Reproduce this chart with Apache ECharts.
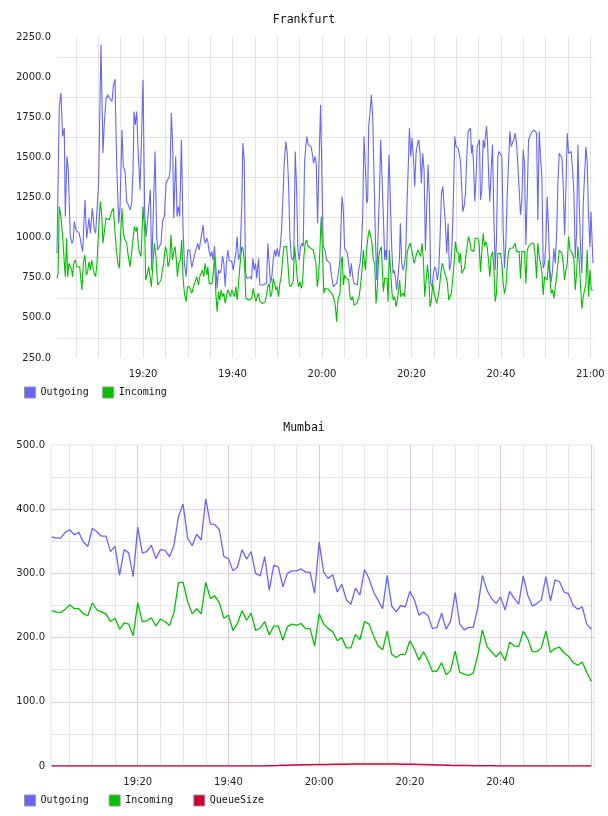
<!DOCTYPE html>
<html>
<head>
<meta charset="utf-8">
<title>Frankfurt / Mumbai</title>
<script src="https://cdn.jsdelivr.net/npm/echarts@6/dist/echarts.min.js"></script>
<style>
  html, body { margin: 0; padding: 0; background: #fff; }
  #chart { width: 608px; height: 816px; }
</style>
</head>
<body>
<div id="chart"></div>
<script>
// x values are minutes after 19:00
const frankfurtRange = [0.76, 120.6];
const mumbaiRange = [0.88, 120.6];
const frankfurtTicks = [250, 2250, 250];
const mumbaiTicks = [0, 500, 100];
const seriesNames = ["Outgoing", "Incoming", "QueueSize"];
const seriesColors = ["#6666ff", "#00c000", "#cc0033"];

const frankfurtOutgoing = [
  [0.76,902],[1.27,1818],[1.64,1901],[2.02,1630],[2.39,1682],[2.61,1131],[2.98,1506],[3.28,1422],[3.73,1006],[4.10,965],
  [4.40,986],[4.63,1100],[5.00,1048],[5.37,1038],[5.75,1027],[6.12,965],[6.49,913],[6.71,1048],[7.01,1235],[7.39,996],
  [7.61,986],[7.91,1121],[8.21,1027],[8.65,1183],[9.10,1048],[9.40,1027],[9.70,1173],[10.07,1339],[10.59,2202],[11.04,1526],
  [11.34,1714],[11.71,1859],[12.09,1890],[12.46,1870],[12.83,1859],[13.06,1849],[13.35,1942],[13.73,1988],[14.10,1464],[14.55,1090],
  [14.85,1194],[15.29,1672],[15.59,1443],[15.97,1412],[16.34,1225],[16.71,1204],[17.09,1173],[17.46,1214],[17.76,1422],[17.98,1786],
  [18.28,1703],[18.58,1786],[18.95,1506],[19.32,1298],[19.70,1672],[19.99,1984],[20.37,1152],[20.67,1006],[21.04,1121],[21.34,1131],
  [21.63,1298],[21.93,798],[22.68,1537],[23.05,1006],[23.28,923],[23.65,944],[24.02,965],[24.40,1110],[24.77,1131],[25.14,1339],
  [25.51,1360],[25.89,1381],[26.04,1422],[26.33,1776],[26.63,1568],[26.86,1121],[27.30,1506],[27.60,1131],[27.90,1194],[28.20,1131],
  [28.57,1610],[28.95,1048],[29.24,840],[29.62,757],[29.99,923],[30.44,923],
  [30.52,902],[30.90,815],[31.27,815],[31.64,907],[32.02,913],[32.24,965],[32.54,923],[32.84,913],[33.13,1027],[33.43,1079],
  [33.66,996],[33.88,965],[34.25,996],[34.48,975],[34.78,913],[35.07,882],[35.37,913],[35.67,861],[35.97,948],[36.27,819],
  [36.57,684],[36.86,798],[37.16,778],[37.46,798],[37.76,886],[38.06,840],[38.36,694],[38.65,840],[38.95,923],[39.25,861],
  [39.55,861],[39.85,850],[40.15,798],[40.44,850],[40.74,902],[41.04,1006],[41.34,861],[41.71,902],[42.09,1214],[42.31,1589],
  [42.61,1485],[42.91,778],[43.21,746],[43.58,757],[43.95,757],[44.25,740],[44.55,871],[44.85,798],[45.14,840],[45.44,746],
  [45.82,871],[46.11,705],[46.49,705],[46.86,705],[47.23,705],[47.61,715],[47.90,965],[48.20,840],[48.50,715],[48.80,757],
  [49.10,861],[49.40,923],[49.70,882],[49.99,934],[50.37,882],[50.67,944],[50.96,1048],[51.26,1235],[51.56,1464],[51.93,1599],
  [52.23,1526],[52.53,1339],[52.83,1006],[53.13,882],[53.43,861],[53.72,882],[54.02,1537],[54.32,1318],[54.62,923],[54.92,861],
  [55.22,944],[55.51,965],[55.81,944],[56.11,1464],[56.41,1578],[56.63,1630],[56.93,1578],[57.23,1578],[57.53,1568],[57.83,1526],
  [58.13,1464],[58.42,1506],[58.72,1464],[59.02,1090],[59.32,1443],[59.69,1828],[59.99,1818],[60.29,944],
  [60.67,923],[61.05,861],[61.42,850],[61.79,840],[62.17,757],[62.54,694],[62.91,684],[63.28,715],[63.66,778],[64.03,861],
  [64.25,1069],[64.48,1256],[64.78,1173],[65.07,934],[65.37,944],[65.67,902],[65.97,840],[66.27,757],[66.57,840],[66.86,757],
  [67.16,715],[67.54,715],[67.91,705],[68.21,798],[68.51,840],[68.80,923],[69.10,1131],[69.40,1630],[69.70,1443],[70.00,1214],
  [70.22,1235],[70.45,1693],[70.74,1776],[71.04,1890],[71.34,1755],[71.64,1381],[71.94,1006],[72.24,736],[72.53,1006],[72.83,1256],
  [73.13,1610],[73.43,1599],[73.73,1131],[74.03,861],[74.25,923],[74.47,861],[74.77,1298],[75.00,1516],[75.29,1506],[75.59,944],
  [75.89,778],[76.12,798],[76.41,757],[76.71,674],[77.01,757],[77.31,861],[77.53,1090],[77.83,840],[78.13,798],[78.43,830],
  [78.73,902],[79.02,1214],[79.32,1464],[79.55,1682],[79.85,1506],[80.14,1620],[80.44,1506],[80.74,1318],[81.04,1526],[81.34,1578],
  [81.64,1610],[81.93,1526],[82.23,1339],[82.53,1526],[82.83,1422],[83.13,923],[83.43,913],[83.72,1454],[84.02,1256],[84.32,715],
  [84.62,694],[84.92,778],[85.22,819],[85.51,798],[85.81,736],[86.11,798],[86.41,1006],[86.71,1277],[87.01,1318],[87.31,1194],
  [87.60,1090],[87.90,902],[88.20,1090],[88.50,798],[88.80,830],[89.10,965],[89.39,1256],[89.69,1630],[89.99,1568],[90.44,1558],
  [90.67,1526],[90.97,1474],[91.27,1464],[91.49,1162],[91.79,1194],[92.09,1277],[92.38,1506],[92.68,1662],[92.98,1672],[93.20,1682],
  [93.43,1526],[93.65,1578],[93.88,1464],[94.17,1225],[94.47,1381],[94.70,1568],[95.00,1589],[95.22,1610],[95.44,1235],[95.74,1298],
  [96.04,1610],[96.34,1558],[96.56,1630],[96.79,1693],[97.01,1610],[97.23,1422],[97.53,1225],[97.83,1422],[98.13,1578],[98.43,1131],
  [98.73,798],[99.02,986],[99.32,1506],[99.62,1537],[99.92,1526],[100.22,1506],[100.52,1048],[100.81,809],[101.11,965],[101.41,1256],
  [101.71,1464],[102.01,1662],[102.31,1568],[102.60,1558],[102.90,1610],[103.20,1651],[103.50,1589],[103.80,1454],[104.10,1443],[104.39,1142],
  [104.69,1235],[104.99,1547],[105.29,1464],[105.59,954],[105.89,1256],[106.19,1610],[106.48,1630],[106.78,1651],[107.08,1662],[107.38,1672],
  [107.68,1682],[107.98,1651],[108.27,1110],[108.57,1662],[108.87,1506],[109.17,1381],[109.47,809],[109.77,840],[110.06,965],[110.36,1256],
  [110.66,1048],[110.96,798],[111.26,726],[111.56,798],[111.85,934],[112.15,840],[112.45,1006],[112.75,1339],[113.05,1526],[113.35,1516],
  [113.65,1495],[113.94,1329],[114.24,1017],[114.54,1298],[114.84,1651],[115.14,1526],[115.44,1526],[115.73,1537],[116.03,1422],[116.33,1277],
  [116.63,871],[116.93,1027],[117.23,1578],[117.52,1214],[117.82,934],[118.12,778],[118.42,1214],[118.72,1391],[119.02,1568],[119.31,1464],
  [119.61,1131],[119.91,944],[120.14,1162],[120.6,840]
];

const frankfurtIncoming = [
  [0.76,746],[1.00,778],[1.27,1194],[1.64,1131],[2.02,1006],[2.39,996],[2.61,757],[2.91,996],[3.13,757],[3.43,840],
  [3.73,830],[4.03,798],[4.25,757],[4.48,840],[4.85,861],[5.15,819],[5.52,830],[5.82,819],[6.12,809],[6.34,674],
  [6.64,840],[7.01,892],[7.31,767],[7.61,788],[7.91,850],[8.21,798],[8.51,861],[8.88,798],[9.10,778],[9.40,757],
  [9.70,840],[10.07,1048],[10.44,1225],[10.74,1152],[11.04,965],[11.34,975],[11.71,1121],[12.09,1121],[12.46,1110],[12.68,1131],
  [12.98,1162],[13.35,1183],[13.65,1194],[14.03,923],[14.40,840],[14.70,809],[15.00,1027],[15.29,1183],[15.59,1027],[15.97,986],
  [16.34,965],[16.71,882],[17.09,819],[17.38,819],[17.76,986],[18.05,1069],[18.43,1038],[18.65,1069],[18.95,944],[19.25,902],
  [19.55,882],[19.99,1194],[20.37,1048],[20.59,736],[20.89,767],[21.26,819],[21.56,809],[21.86,694],[22.23,694],[22.53,965],
  [22.90,882],[23.28,705],[23.65,694],[24.02,736],[24.32,798],[24.62,840],[24.99,944],[25.29,913],[25.59,819],[25.96,861],
  [26.26,1017],[26.56,861],[26.86,913],[27.15,944],[27.45,861],[27.68,757],[27.98,840],[28.35,861],[28.65,986],[28.95,746],
  [29.24,653],[29.62,601],[29.92,694],[30.37,694],
  [30.52,694],[30.90,653],[31.27,694],[31.64,705],[32.02,757],[32.39,705],[32.69,757],[32.98,767],[33.28,798],[33.58,757],
  [33.88,840],[34.25,767],[34.48,819],[34.78,715],[35.07,715],[35.37,711],[35.67,767],[35.97,882],[36.27,653],[36.57,538],
  [36.86,663],[37.16,611],[37.46,674],[37.76,632],[38.06,653],[38.36,590],[38.65,632],[38.95,674],[39.25,663],[39.55,632],
  [39.85,674],[40.15,653],[40.44,632],[40.74,694],[41.04,611],[41.34,715],[41.71,840],[42.09,944],[42.38,923],[42.68,840],
  [42.98,622],[43.28,611],[43.58,611],[43.95,611],[44.32,622],[44.62,684],[44.92,642],[45.22,601],[45.52,632],[45.82,653],
  [46.11,601],[46.41,611],[46.71,590],[47.01,590],[47.31,601],[47.61,595],[47.90,694],[48.20,715],[48.50,632],[48.80,653],
  [49.10,746],[49.40,715],[49.70,674],[49.99,694],[50.29,632],[50.59,715],[50.89,757],[51.19,861],[51.49,944],[51.78,954],
  [52.08,944],[52.38,840],[52.68,715],[52.98,694],[53.28,694],[53.57,726],[53.87,944],[54.17,861],[54.47,746],[54.77,694],
  [55.07,726],[55.36,684],[55.66,715],[55.96,882],[56.26,965],[56.56,986],[56.86,948],[57.16,944],[57.45,934],[57.75,923],
  [58.05,923],[58.35,913],[58.65,840],[58.95,694],[59.24,757],[59.54,923],[59.84,1131],[60.14,882],[60.44,653],
  [60.67,684],[61.05,674],[61.42,678],[61.79,684],[62.17,653],[62.54,632],[62.91,590],[63.13,528],[63.28,476],[63.51,590],
  [63.73,632],[64.03,653],[64.33,861],[64.55,882],[64.78,705],[65.07,767],[65.37,746],[65.67,757],[65.97,736],[66.27,632],
  [66.57,611],[66.86,632],[67.16,580],[67.46,574],[67.76,590],[68.06,611],[68.36,642],[68.66,715],[68.95,798],[69.25,923],
  [69.48,927],[69.70,798],[70.00,923],[70.30,1006],[70.59,1048],[70.89,1048],[71.19,965],[71.49,861],[71.79,840],[72.09,590],
  [72.39,694],[72.68,882],[72.98,923],[73.28,944],[73.58,944],[73.73,663],[74.03,746],[74.33,736],[74.55,746],[74.77,601],
  [75.07,923],[75.37,913],[75.67,653],[75.97,611],[76.26,632],[76.56,570],[76.86,611],[77.16,611],[77.38,736],[77.61,632],
  [77.91,642],[78.20,653],[78.50,632],[78.80,798],[79.10,913],[79.40,944],[79.70,965],[79.99,934],[80.29,944],[80.59,840],
  [80.89,840],[81.19,902],[81.49,923],[81.78,902],[82.08,882],[82.38,965],[82.68,861],[82.98,632],[83.28,632],[83.58,830],
  [83.87,757],[84.17,570],[84.47,611],[84.77,715],[85.07,653],[85.37,642],[85.66,590],[85.96,632],[86.26,684],[86.56,778],
  [86.86,840],[87.16,819],[87.45,778],[87.75,757],[88.05,715],[88.35,611],[88.65,632],[88.95,653],[89.24,653],[89.54,840],
  [89.84,975],[90.14,913],[90.59,902],
  [90.67,840],[90.97,902],[91.27,778],[91.56,788],[91.86,809],[92.16,882],[92.46,944],[92.76,1006],[93.06,975],[93.35,923],
  [93.65,934],[93.95,913],[94.25,996],[94.55,1006],[94.85,996],[95.14,965],[95.44,788],[95.74,913],[96.04,1027],[96.34,944],
  [96.64,975],[96.93,944],[97.23,861],[97.53,757],[97.83,882],[98.13,913],[98.43,819],[98.73,601],[99.02,653],[99.32,902],
  [99.62,902],[99.92,902],[100.22,840],[100.52,715],[100.81,653],[101.11,694],[101.41,819],[101.71,913],[102.01,934],[102.31,923],
  [102.60,934],[102.90,944],[103.20,965],[103.50,913],[103.80,923],[104.10,913],[104.39,746],[104.69,913],[104.99,902],[105.29,913],
  [105.59,715],[105.89,923],[106.19,944],[106.48,948],[106.78,965],[107.08,975],[107.38,965],[107.68,882],[107.98,746],[108.27,965],
  [108.57,882],[108.87,840],[109.17,788],[109.47,642],[109.77,757],[110.06,767],[110.36,736],[110.66,861],[110.96,757],[111.26,653],
  [111.56,674],[111.85,622],[112.15,622],[112.45,757],[112.75,840],[113.05,923],[113.35,934],[113.65,902],[113.94,840],[114.24,736],
  [114.54,798],[114.84,840],[115.14,1006],[115.44,923],[115.73,923],[116.03,902],[116.33,861],[116.63,674],[116.93,778],[117.23,944],
  [117.52,861],[117.82,694],[118.12,559],[118.42,632],[118.72,632],[119.02,715],[119.31,923],[119.61,632],[119.91,798],[120.21,674],
  [120.6,674]
];

const mumbaiMinutes = [
  1, 2, 3, 4, 5, 6, 7, 8, 9, 10, 11, 12, 13, 14, 15, 16, 17, 18, 19, 20,
  21, 22, 23, 24, 25, 26, 27, 28, 29, 30, 31, 32, 33, 34, 35, 36, 37, 38, 39, 40,
  41, 42, 43, 44, 45, 46, 47, 48, 49, 50, 51, 52, 53, 54, 55, 56, 57, 58, 59, 60,
  61, 62, 63, 64, 65, 66, 67, 68, 69, 70, 71, 72, 73, 74, 75, 76, 77, 78, 79, 80,
  81, 82, 83, 84, 85, 86, 87, 88, 89, 90, 91, 92, 93, 94, 95, 96, 97, 98, 99, 100,
  101, 102, 103, 104, 105, 106, 107, 108, 109, 110, 111, 112, 113, 114, 115, 116, 117, 118, 119, 120
];

const mumbaiOutgoing = [
  357, 355, 355, 364, 368, 360, 364, 349, 342, 370, 365, 358, 358, 334, 342, 297, 337, 332, 295, 372,
  332, 334, 344, 323, 337, 336, 326, 344, 389, 408, 355, 343, 361, 352, 416, 377, 376, 368, 326, 323,
  304, 310, 337, 322, 334, 300, 296, 326, 274, 313, 310, 279, 300, 304, 304, 307, 302, 302, 269, 349,
  302, 292, 298, 271, 283, 259, 252, 277, 266, 306, 292, 271, 258, 245, 297, 249, 240, 250, 248, 272,
  259, 235, 240, 234, 214, 216, 238, 213, 226, 270, 221, 212, 216, 216, 248, 297, 274, 261, 253, 263,
  243, 272, 261, 252, 296, 266, 249, 253, 259, 295, 257, 290, 287, 271, 268, 250, 244, 248, 221, 213
];

const mumbaiIncoming = [
  242, 240, 239, 244, 251, 245, 245, 237, 234, 254, 243, 240, 237, 225, 230, 213, 223, 221, 203, 254,
  225, 226, 231, 218, 229, 225, 219, 239, 286, 286, 256, 237, 245, 237, 286, 261, 265, 254, 230, 235,
  211, 222, 242, 227, 238, 211, 215, 225, 204, 218, 218, 196, 217, 221, 219, 222, 214, 214, 187, 237,
  221, 214, 209, 195, 200, 184, 184, 205, 197, 225, 221, 203, 187, 181, 210, 174, 169, 174, 174, 195,
  182, 165, 178, 164, 147, 148, 161, 142, 149, 179, 146, 143, 141, 145, 174, 212, 186, 178, 170, 178,
  164, 193, 187, 186, 210, 198, 178, 178, 184, 210, 177, 183, 185, 176, 171, 161, 157, 162, 146, 132
];

const mumbaiQueueSize = [
  0, 0, 0, 0, 0, 0, 0, 0, 0, 0, 0, 0, 0, 0, 0, 0, 0, 0, 0, 0,
  0, 0, 0, 0, 0, 0, 0, 0, 0, 0, 0, 0, 0, 0, 0, 0, 0, 0, 0, 0,
  0, 0, 0, 0, 0, 0, 0, 0, 0.3, 0.5, 0.7, 1, 1.2, 1.4, 1.6, 1.8, 2, 2.1, 2.2, 2.3,
  2.4, 2.5, 2.6, 2.7, 2.8, 2.9, 3, 3, 3.1, 3.1, 3.2, 3.2, 3.2, 3.1, 3.1, 3, 3, 2.9, 2.8, 2.7,
  2.6, 2.4, 2.2, 2, 1.8, 1.6, 1.4, 1.2, 1, 0.9, 0.8, 0.7, 0.6, 0.5, 0.4, 0.3, 0.2, 0.2, 0.1, 0.1,
  0, 0, 0, 0, 0, 0, 0, 0, 0, 0, 0, 0, 0, 0, 0, 0, 0, 0, 0, 0
];

const labelFont = { fontFamily: "DejaVu Sans", fontSize: 10, color: "#222" };
const monoFont = { fontFamily: "DejaVu Sans Mono", color: "#111" };

function clock(m) {
  if (Math.abs(m % 20) > 1e-6) return "";
  const h = 19 + Math.floor(m / 60);
  const mm = Math.round(m % 60);
  return h + ":" + (mm < 10 ? "0" : "") + mm;
}

function pairs(xs, ys) {
  return xs.map((x, i) => [x, ys[i]]);
}

function lineSeries(name, idx, data, width) {
  return {
    name: name,
    type: "line",
    xAxisIndex: idx,
    yAxisIndex: idx,
    data: data,
    showSymbol: false,
    symbol: "none",
    color: seriesColors[seriesNames.indexOf(name)],
    lineStyle: { width: width },
    emphasis: { disabled: true },
  };
}

const chart = echarts.init(document.getElementById("chart"));

chart.setOption({
  animation: false,
  backgroundColor: "#fff",
  title: [
    {
      text: "Frankfurt",
      left: "center",
      top: 14,
      padding: 0,
      textStyle: Object.assign({ fontSize: 11.5, fontWeight: "normal" }, monoFont),
    },
    {
      text: "Mumbai",
      left: "center",
      top: 422,
      padding: 0,
      textStyle: Object.assign({ fontSize: 11.5, fontWeight: "normal" }, monoFont),
    },
  ],
  legend: [
    {
      data: ["Outgoing", "Incoming"],
      left: 24,
      top: 386.5,
      padding: 0,
      icon: "rect",
      itemWidth: 11,
      itemHeight: 11,
      itemGap: 13.5,
      selectedMode: false,
      itemStyle: { borderColor: "#999", borderWidth: 1 },
      textStyle: Object.assign({ fontSize: 10 }, monoFont),
    },
    {
      data: ["Outgoing", "Incoming", "QueueSize"],
      left: 24,
      top: 794.5,
      padding: 0,
      icon: "rect",
      itemWidth: 11,
      itemHeight: 11,
      itemGap: 20,
      selectedMode: false,
      itemStyle: { borderColor: "#999", borderWidth: 1 },
      textStyle: Object.assign({ fontSize: 10 }, monoFont),
    },
  ],
  grid: [
    { left: 57, top: 37, width: 536, height: 321 },
    {
      left: 51, top: 445, width: 543, height: 321,
      show: true, borderColor: "#efdfef", borderWidth: 1,
    },
  ],
  xAxis: [
    {
      type: "value",
      gridIndex: 0,
      min: frankfurtRange[0],
      max: frankfurtRange[1],
      splitNumber: 6,
      axisLine: { show: false },
      axisTick: { show: false },
      axisLabel: Object.assign({
        margin: 11,
        showMinLabel: false,
        showMaxLabel: false,
        formatter: clock,
      }, labelFont),
      splitLine: { show: true, showMinLine: false, showMaxLine: false, lineStyle: { color: "#e3e3e3" } },
      minorTick: { show: false, splitNumber: 4 },
      minorSplitLine: { show: true, lineStyle: { color: "#e3e3e3" } },
    },
    {
      type: "value",
      gridIndex: 1,
      min: mumbaiRange[0],
      max: mumbaiRange[1],
      splitNumber: 6,
      axisLine: { show: false },
      axisTick: { show: false },
      axisLabel: Object.assign({
        margin: 11,
        showMinLabel: false,
        showMaxLabel: false,
        formatter: (m) => (m >= 120 ? "" : clock(m)),
      }, labelFont),
      splitLine: { show: true, showMinLine: false, showMaxLine: false, lineStyle: { color: "#dcc6dc" } },
      minorTick: { show: false, splitNumber: 4 },
      minorSplitLine: { show: true, lineStyle: { color: "#e6e6e6" } },
    },
  ],
  yAxis: [
    {
      type: "value",
      gridIndex: 0,
      min: frankfurtTicks[0],
      max: frankfurtTicks[1],
      interval: frankfurtTicks[2],
      axisLine: { show: false },
      axisTick: { show: false },
      axisLabel: Object.assign({ margin: 6, formatter: (v) => v.toFixed(1) }, labelFont),
      splitLine: { show: false },
      minorTick: { show: false, splitNumber: 2 },
      minorSplitLine: { show: true, lineStyle: { color: "#e3e3e3" } },
    },
    {
      type: "value",
      gridIndex: 1,
      min: mumbaiTicks[0],
      max: mumbaiTicks[1],
      interval: mumbaiTicks[2],
      axisLine: { show: false },
      axisTick: { show: false },
      axisLabel: Object.assign({ margin: 6, formatter: (v) => (v === 0 ? "0" : v.toFixed(1)) }, labelFont),
      splitLine: { show: true, showMinLine: false, showMaxLine: false, lineStyle: { color: "#e2cde2" } },
      minorTick: { show: false, splitNumber: 2 },
      minorSplitLine: { show: true, lineStyle: { color: "#e6e6e6" } },
    },
  ],
  series: [
    lineSeries("Outgoing", 0, frankfurtOutgoing, 1.1),
    lineSeries("Incoming", 0, frankfurtIncoming, 1.1),
    lineSeries("Outgoing", 1, pairs(mumbaiMinutes, mumbaiOutgoing), 1.3),
    lineSeries("Incoming", 1, pairs(mumbaiMinutes, mumbaiIncoming), 1.3),
    lineSeries("QueueSize", 1, pairs(mumbaiMinutes, mumbaiQueueSize), 1.5),
  ],
});
</script>
</body>
</html>
